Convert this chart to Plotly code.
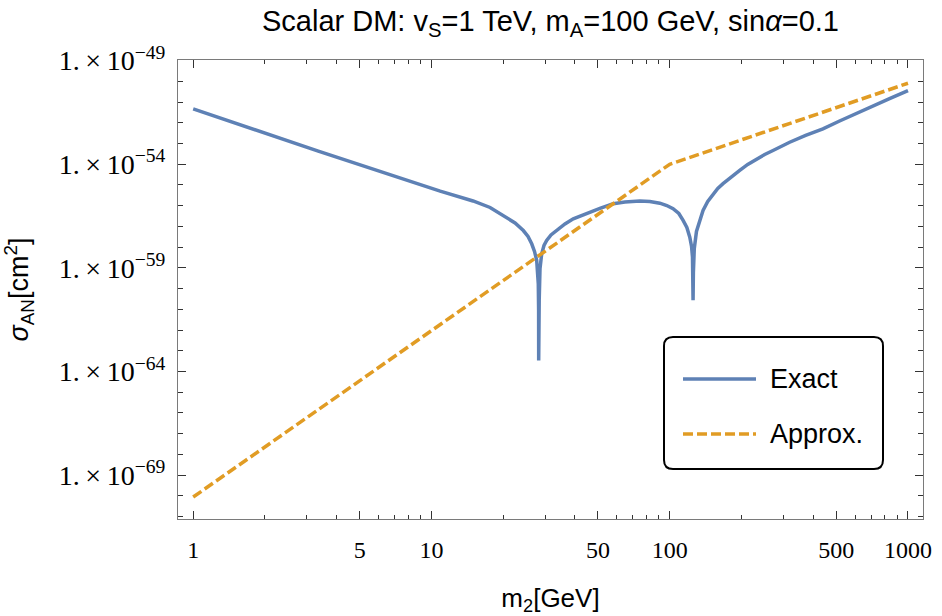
import plotly.graph_objects as go

# ---- data ----
m_exact = [1.0, 3.35, 10.88, 14.95, 17.62, 20.70, 22.43, 24.30, 25.43, 26.35,
           27.07, 27.65, 27.92, 28.08, 28.17, 28.19,
           28.33, 28.55, 29.02, 29.67, 30.45, 31.75, 33.54, 36.34, 39.37, 46.25,
           50.93, 57.92, 64.84, 74.93, 82.52, 90.88, 97.23, 103.3, 109.2, 113.8,
           118.0, 121.4, 123.5, 124.6, 125.2, 125.3,
           125.7, 126.8, 129.5, 133.7, 138.0, 144.4, 152.0, 159.1, 167.4, 180.4,
           196.7, 212.5, 231.1, 250.4, 271.3, 318.7, 371.9, 439.5, 516.3, 606.6,
           710.0, 836.6, 1000.0]
sigma_exact = [4.7e-52, 4.3e-54, 5.0e-56, 1.69e-56, 8.2e-57, 2.8e-57, 1.47e-57,
               6.3e-58, 3.26e-58, 1.45e-58,
               6.2e-59, 2.3e-59, 7.5e-60, 1.7e-60, 8.8e-62, 3.4e-64,
               2.7e-61, 9.3e-60, 4.8e-59, 1.2e-58, 2.1e-58, 3.9e-58, 6.3e-58,
               1.32e-57, 2.34e-57, 4.9e-57,
               7.4e-57, 1.23e-56, 1.51e-56, 1.66e-56, 1.59e-56, 1.32e-56, 1.02e-56,
               7.1e-57, 4.2e-57, 1.95e-57,
               8.9e-58, 3.0e-58, 1.07e-58, 3.3e-59, 4.3e-60, 2.7e-61,
               6.0e-60, 8.6e-59, 5.7e-58, 2.15e-57, 5.9e-57, 1.59e-56, 3.5e-56,
               6.8e-56, 1.15e-55, 2.4e-55,
               5.0e-55, 9.8e-55, 1.82e-54, 2.95e-54, 4.6e-54, 1.15e-53, 2.45e-53,
               5.1e-53, 1.22e-52, 2.7e-52,
               6.1e-52, 1.45e-51, 3.6e-51]

m_approx = [1.0, 100.0, 1000.0]
sigma_approx = [8.7e-71, 1.0e-54, 8.1e-51]

x_tickvals = [1, 5, 10, 50, 100, 500, 1000]
x_ticktext = ["1", "5", "10", "50", "100", "500", "1000"]
x_minor = [2, 3, 4, 6, 7, 8, 9, 20, 30, 40, 60, 70, 80, 90,
           200, 300, 400, 600, 700, 800, 900]
y_exps = [-49, -54, -59, -64, -69]
y_minor_exps = [e for e in range(-71, -48) if e not in y_exps]
y_ticktext = [f"1.\u2009×\u200910<sup>−{-e}</sup>" for e in y_exps]

title_text = "Scalar DM: v<sub>S</sub>=1 TeV, m<sub>A</sub>=100 GeV, sin<i>α</i>=0.1"
legend_names = ["Exact", "Approx."]

BLUE = "#5E81B5"
ORANGE = "#E19C24"
SANS = "Liberation Sans, Arial, sans-serif"
SERIF = "Liberation Serif, Times New Roman, serif"

W, H = 942, 616
L, R, T, B = 178, 923, 60, 519


def px(xp):
    return (xp - L) / (R - L)


def py(yp):
    return (B - yp) / (B - T)


fig = go.Figure()
fig.add_trace(go.Scatter(x=m_exact, y=sigma_exact, mode="lines", name=legend_names[0],
                         line=dict(color=BLUE, width=3.5), showlegend=False))
fig.add_trace(go.Scatter(x=m_approx, y=sigma_approx, mode="lines", name=legend_names[1],
                         line=dict(color=ORANGE, width=3.5, dash="10px,4px"),
                         showlegend=False))

# legend box (rounded)
x0, x1, y0, y1, r = 664, 883, 337, 469, 9
rx, ry = r / (R - L), r / (B - T)
X0, X1, Y0, Y1 = px(x0), px(x1), py(y0), py(y1)
path = (f"M{X0+rx},{Y0} L{X1-rx},{Y0} Q{X1},{Y0} {X1},{Y0-ry} "
        f"L{X1},{Y1+ry} Q{X1},{Y1} {X1-rx},{Y1} L{X0+rx},{Y1} "
        f"Q{X0},{Y1} {X0},{Y1+ry} L{X0},{Y0-ry} Q{X0},{Y0} {X0+rx},{Y0} Z")
shapes = [dict(type="path", path=path, xref="paper", yref="paper",
               line=dict(color="black", width=2), fillcolor="white", layer="above")]
shapes.append(dict(type="line", xref="paper", yref="paper", x0=px(683), x1=px(756),
                   y0=py(379), y1=py(379), line=dict(color=BLUE, width=3.5), layer="above"))
shapes.append(dict(type="line", xref="paper", yref="paper", x0=px(683), x1=px(756),
                   y0=py(434), y1=py(434),
                   line=dict(color=ORANGE, width=3.5, dash="10px,4px"), layer="above"))
annotations = [
    dict(text=legend_names[0], xref="paper", yref="paper", x=px(768), y=py(379),
         xanchor="left", yanchor="middle", showarrow=False,
         font=dict(family=SANS, size=27, color="black")),
    dict(text=legend_names[1], xref="paper", yref="paper", x=px(768), y=py(434),
         xanchor="left", yanchor="middle", showarrow=False,
         font=dict(family=SANS, size=27, color="black")),
]

FRAME = "#7a7a7a"
fig.update_layout(
    width=W, height=H,
    margin=dict(l=L, r=W - R, t=T, b=H - B),
    paper_bgcolor="white", plot_bgcolor="white",
    title=dict(text=title_text, x=0.5, xref="paper", xanchor="center",
               y=1 - 21 / H, yref="container", yanchor="middle",
               font=dict(family=SANS, size=29, color="black")),
    shapes=shapes, annotations=annotations,
    xaxis=dict(type="log", range=[-0.0637, 3.063], automargin=False,
               tickmode="array", tickvals=x_tickvals, ticktext=x_ticktext,
               ticks="inside", ticklen=8, tickwidth=1, tickcolor="#333",
               minor=dict(tickmode="array", tickvals=x_minor, ticks="inside",
                          ticklen=4, tickwidth=1, tickcolor="#333", showgrid=False),
               showline=True, linecolor=FRAME, linewidth=1.2, mirror="allticks",
               showgrid=False, zeroline=False,
               tickfont=dict(family=SERIF, size=24, color="black"),
               ticklabelstandoff=9,
               title=dict(text="m<sub>2</sub>[GeV]", standoff=26,
                          font=dict(family=SANS, size=26, color="black"))),
    yaxis=dict(type="log", range=[-71.12, -48.97], automargin=False,
               tickmode="array", tickvals=[10.0 ** e for e in y_exps],
               ticktext=y_ticktext,
               ticks="inside", ticklen=8, tickwidth=1, tickcolor="#333",
               minor=dict(tickmode="array", tickvals=[10.0 ** e for e in y_minor_exps],
                          ticks="inside", ticklen=5, tickwidth=1, tickcolor="#333",
                          showgrid=False),
               showline=True, linecolor=FRAME, linewidth=1.2, mirror="allticks",
               showgrid=False, zeroline=False,
               tickfont=dict(family=SERIF, size=28, color="black"),
               ticklabelstandoff=6,
               title=dict(text="<i>σ</i><sub>AN</sub>[cm<sup>2</sup>]", standoff=24,
                          font=dict(family=SANS, size=27, color="black"))),
)

fig.write_html("out.html")
